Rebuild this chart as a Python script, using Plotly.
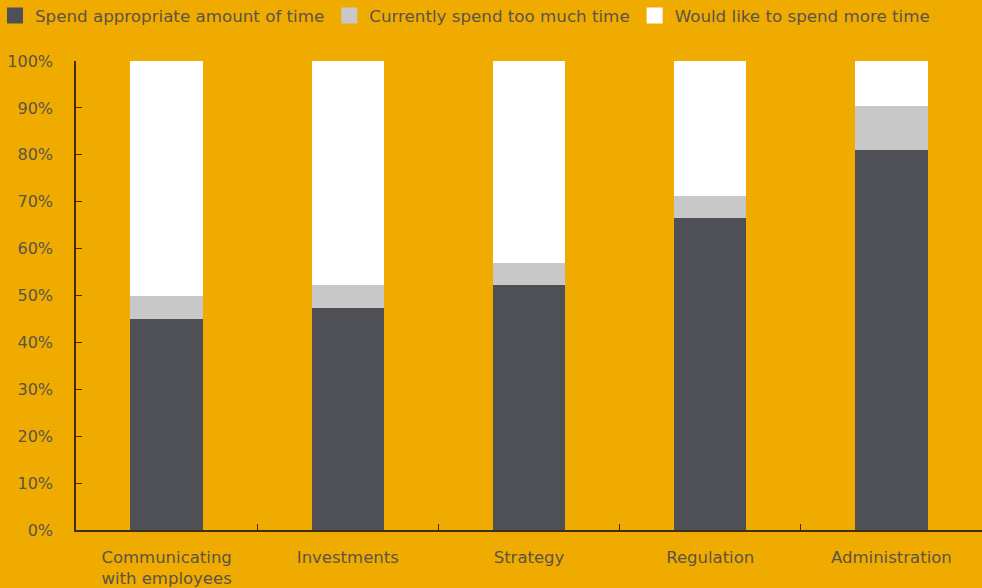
import plotly.graph_objects as go

categories = ["Communicating<br>with employees", "Investments", "Strategy", "Regulation", "Administration"]
appropriate = [45.0, 47.4, 52.3, 66.6, 81.0]
too_much = [5.0, 4.9, 4.7, 4.7, 9.3]
more_time = [50.0, 47.7, 43.0, 28.7, 9.7]
y_ticks = [0, 10, 20, 30, 40, 50, 60, 70, 80, 90, 100]
y_tick_labels = [f"{v}%" for v in y_ticks]

BG = "#F0AB00"
TEXT = "#5B5447"
AXIS = "#3A3015"
FONT = "DejaVu Sans"

series = [
    ("Spend appropriate amount of time", appropriate, "#4F5055"),
    ("Currently spend too much time", too_much, "#C8C8C8"),
    ("Would like to spend more time", more_time, "#FFFFFF"),
]

fig = go.Figure()
for i, (name, vals, color) in enumerate(series):
    fig.add_trace(go.Bar(
        x=categories, y=vals, name=name, legendgroup=f"g{i}",
        marker=dict(color=color, line=dict(width=0)),
        width=0.4, showlegend=False,
    ))
# Legend keys: larger square swatches for each series
for i, (name, vals, color) in enumerate(series):
    fig.add_trace(go.Scatter(
        x=[categories[0]], y=[None], name=name, legendgroup=f"g{i}",
        mode="markers",
        marker=dict(symbol="square", size=16, color=color, line=dict(width=0)),
        showlegend=True, hoverinfo="skip",
    ))

fig.update_layout(
    width=982, height=588,
    barmode="stack",
    paper_bgcolor=BG, plot_bgcolor=BG,
    margin=dict(l=76, r=0, t=61, b=58, autoexpand=False),
    font=dict(family=FONT, size=16.5, color=TEXT),
    legend=dict(
        orientation="h", traceorder="normal",
        xref="paper", yref="paper",
        x=-0.0894, y=1.134, xanchor="left", yanchor="top",
        font=dict(family=FONT, size=16.7, color=TEXT),
        itemwidth=30, itemsizing="trace", bgcolor="rgba(0,0,0,0)",
    ),
    xaxis=dict(
        type="category",
        showline=True, linecolor=AXIS, linewidth=1.5,
        ticks="inside", tickson="boundaries", ticklen=6, tickcolor=AXIS,
        showgrid=False, zeroline=False,
        ticklabelstandoff=11,
        tickfont=dict(family=FONT, size=16.5, color=TEXT),
    ),
    yaxis=dict(
        range=[0, 100],
        tickvals=y_ticks, ticktext=y_tick_labels,
        showline=True, linecolor=AXIS, linewidth=1.5,
        ticks="inside", ticklen=6, tickcolor=AXIS,
        showgrid=False, zeroline=False,
        ticklabelstandoff=18,
        tickfont=dict(family=FONT, size=16, color=TEXT),
    ),
)

fig.write_html("out.html")
